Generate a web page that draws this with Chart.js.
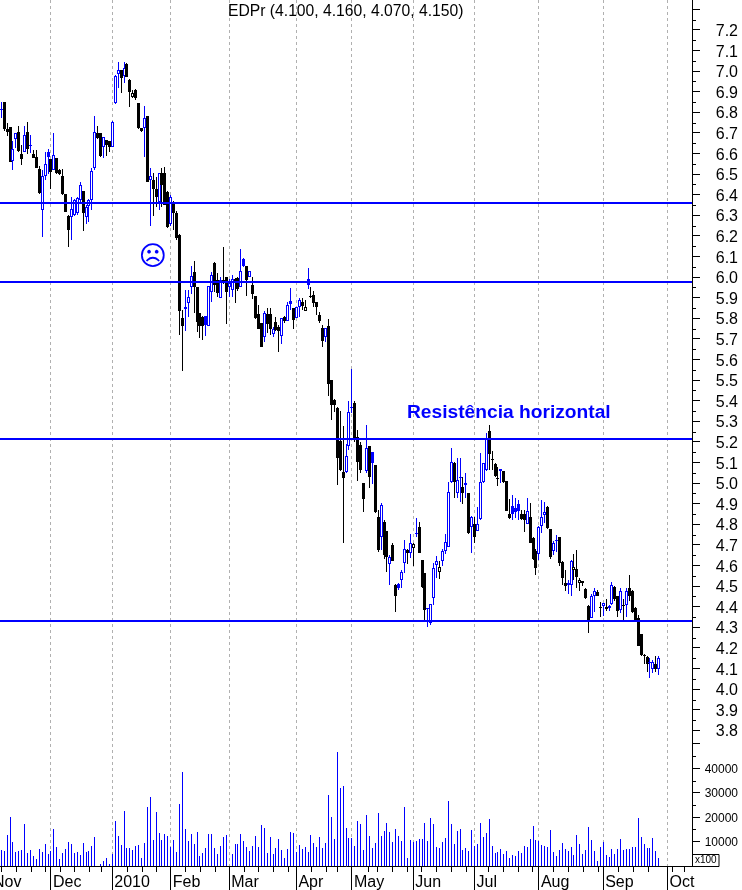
<!DOCTYPE html>
<html>
<head>
<meta charset="utf-8">
<title>EDPr</title>
<script src="https://cdn.jsdelivr.net/npm/chart.js@4/dist/chart.umd.min.js"></script>
<style>
  html, body { margin: 0; padding: 0; background: #fff; overflow: hidden; }
  canvas { display: block; }
</style>
</head>
<body>
<canvas id="chart" width="742" height="890"></canvas>
<script>
// Daily prices
const opens = [6.815,6.85,6.72,6.73,6.565,6.67,6.705,6.60,6.61,6.705,6.64,6.60,6.585,6.525,6.325,6.49,6.61,6.575,6.52,6.58,
  6.52,6.49,6.404,6.297,6.29,6.30,6.31,6.375,6.416,6.291,6.346,6.375,6.529,6.699,6.699,6.634,6.665,6.662,6.634,6.844,
  6.987,7.006,6.977,7.035,6.958,6.874,6.909,6.844,6.725,6.726,6.781,6.472,6.472,6.429,6.365,6.505,6.505,6.414,6.259,6.367,
  6.31,6.203,5.802,5.847,5.876,5.954,6.024,5.95,5.825,5.808,5.812,5.763,5.926,6.067,5.986,5.90,5.985,6.0,5.95,5.938,
  5.99,5.998,5.95,6.09,6.054,6.0,5.962,5.909,5.82,5.776,5.708,5.82,5.82,5.724,5.784,5.756,5.716,5.805,5.789,5.884,
  5.849,5.803,5.854,5.881,5.836,5.99,5.91,5.913,5.879,5.816,5.755,5.711,5.763,5.5,5.404,5.363,5.206,5.053,5.056,5.18,
  5.37,5.388,5.226,5.185,4.999,5.06,5.181,5.15,5.089,4.838,4.737,4.813,4.768,4.606,4.70,4.506,4.51,4.53,4.614,4.676,
  4.66,4.684,4.76,4.786,4.627,4.563,4.395,4.32,4.441,4.605,4.571,4.624,4.671,4.692,5.004,5.10,4.954,5.029,4.983,5.0,
  4.951,4.789,4.802,4.77,4.825,5.004,5.064,5.254,5.118,5.092,5.027,5.067,5.06,5.01,4.851,4.89,4.88,4.9,4.849,4.849,
  4.804,4.835,4.733,4.671,4.655,4.792,4.844,4.883,4.776,4.671,4.724,4.737,4.616,4.514,4.507,4.506,4.579,4.582,4.514,4.524,
  4.487,4.404,4.347,4.45,4.474,4.401,4.406,4.40,4.396,4.414,4.498,4.45,4.385,4.409,4.409,4.49,4.477,4.393,4.344,4.268,
  4.16,4.158,4.125,4.1,4.121,4.10];
const highs = [6.852,6.85,6.75,6.73,6.66,6.70,6.735,6.64,6.735,6.755,6.69,6.617,6.617,6.54,6.52,6.61,6.62,6.575,6.70,6.58,
  6.525,6.525,6.404,6.302,6.39,6.38,6.39,6.464,6.42,6.35,6.38,6.532,6.783,6.734,6.70,6.68,6.665,6.662,6.756,6.98,
  7.047,7.006,7.047,7.039,6.96,6.91,6.915,6.845,6.725,6.831,6.781,6.529,6.505,6.488,6.505,6.529,6.537,6.42,6.40,6.37,
  6.32,6.21,5.84,5.94,5.938,6.054,6.078,5.95,5.825,5.81,5.812,5.957,6.027,6.072,6.02,6.0,6.145,6.0,5.99,6.01,
  5.994,6.0,6.137,6.095,6.054,6.03,6.0,5.91,5.865,5.776,5.836,5.849,5.849,5.76,5.805,5.77,5.80,5.81,5.881,5.946,
  5.85,5.857,5.897,5.897,5.889,6.043,5.954,5.933,5.88,5.833,5.768,5.755,5.795,5.5,5.41,5.37,5.35,5.278,5.19,5.40,
  5.554,5.40,5.258,5.2,5.0,5.282,5.181,5.153,5.089,4.87,4.905,4.82,4.77,4.65,4.71,4.51,4.515,4.58,4.724,4.68,
  4.752,4.71,4.83,4.813,4.627,4.563,4.395,4.412,4.611,4.647,4.624,4.68,4.752,5.004,5.17,5.105,5.121,5.121,5.029,5.05,
  4.951,4.84,4.835,4.883,5.145,5.1,5.242,5.283,5.157,5.1,5.08,5.07,5.06,5.01,4.923,4.943,4.93,4.92,4.87,4.87,
  4.927,4.902,4.74,4.68,4.79,4.919,4.91,4.89,4.78,4.72,4.749,4.74,4.62,4.579,4.53,4.625,4.655,4.676,4.54,4.525,
  4.49,4.41,4.46,4.493,4.48,4.425,4.42,4.44,4.41,4.522,4.5,4.45,4.49,4.436,4.49,4.555,4.48,4.4,4.36,4.27,
  4.17,4.16,4.15,4.14,4.16,4.16];
const lows = [6.771,6.71,6.685,6.56,6.52,6.625,6.61,6.545,6.61,6.6,6.605,6.58,6.53,6.405,6.197,6.47,6.50,6.43,6.52,6.50,
  6.495,6.40,6.318,6.145,6.18,6.295,6.30,6.36,6.222,6.259,6.27,6.327,6.52,6.67,6.585,6.577,6.586,6.61,6.634,6.84,
  6.92,6.896,6.941,6.97,6.828,6.87,6.86,6.72,6.705,6.585,6.46,6.249,6.297,6.343,6.327,6.34,6.35,6.24,6.25,6.23,
  6.18,5.72,5.546,5.74,5.808,5.918,5.826,5.735,5.706,5.695,5.716,5.763,5.881,5.93,5.905,5.90,5.965,5.773,5.905,5.905,
  5.876,5.935,5.95,6.05,5.91,6.0,5.892,5.795,5.747,5.66,5.687,5.727,5.72,5.711,5.74,5.638,5.676,5.78,5.789,5.84,
  5.748,5.80,5.808,5.84,5.836,5.941,5.897,5.857,5.816,5.78,5.66,5.687,5.425,5.307,5.347,4.99,5.06,4.71,5.05,5.16,
  5.34,5.20,5.012,5.05,4.862,5.05,4.975,4.996,4.855,4.668,4.676,4.63,4.57,4.506,4.62,4.376,4.48,4.49,4.563,4.61,
  4.635,4.6,4.74,4.66,4.49,4.336,4.30,4.312,4.409,4.54,4.534,4.6,4.657,4.69,5.0,4.927,4.93,4.91,4.9,4.93,
  4.755,4.663,4.712,4.77,4.82,5.0,5.06,5.064,5.064,5.03,4.988,5.0,5.0,4.867,4.826,4.82,4.83,4.82,4.82,4.765,
  4.804,4.708,4.627,4.555,4.627,4.757,4.805,4.78,4.63,4.65,4.668,4.6,4.506,4.477,4.46,4.454,4.53,4.493,4.477,4.5,
  4.44,4.271,4.345,4.376,4.45,4.352,4.357,4.38,4.38,4.41,4.43,4.352,4.37,4.336,4.352,4.43,4.37,4.33,4.21,4.16,
  4.12,4.082,4.053,4.077,4.082,4.07];
const closes = [6.815,6.718,6.705,6.56,6.62,6.70,6.615,6.575,6.69,6.62,6.64,6.58,6.53,6.41,6.49,6.548,6.585,6.51,6.595,6.505,
  6.50,6.405,6.318,6.23,6.33,6.375,6.383,6.448,6.31,6.34,6.375,6.514,6.707,6.675,6.586,6.68,6.64,6.634,6.755,6.975,
  7.005,6.966,7.014,6.971,6.901,6.895,6.869,6.725,6.71,6.772,6.461,6.492,6.43,6.391,6.505,6.448,6.351,6.242,6.391,6.31,
  6.189,5.837,5.763,5.857,5.905,6.007,5.954,5.784,5.765,5.763,5.768,5.957,6.01,5.962,5.925,5.986,5.97,5.926,5.97,5.99,
  5.973,5.943,6.03,6.056,5.986,6.03,5.918,5.802,5.747,5.663,5.824,5.773,5.747,5.75,5.744,5.74,5.80,5.789,5.865,5.87,
  5.792,5.857,5.889,5.86,5.855,5.962,5.905,5.876,5.855,5.789,5.69,5.755,5.48,5.382,5.38,5.124,5.064,5.024,5.134,5.347,
  5.37,5.213,5.104,5.064,4.921,5.17,5.032,5.097,4.862,4.676,4.894,4.652,4.64,4.641,4.62,4.454,4.49,4.571,4.679,4.66,
  4.708,4.703,4.76,4.663,4.498,4.385,4.388,4.412,4.587,4.62,4.595,4.671,4.713,4.956,5.105,5.004,5.016,5.029,4.954,4.99,
  4.76,4.838,4.74,4.8,5.008,5.097,5.218,5.14,5.115,5.037,5.024,5.06,5.004,4.867,4.83,4.851,4.86,4.865,4.826,4.82,
  4.867,4.708,4.631,4.59,4.786,4.838,4.86,4.781,4.64,4.708,4.724,4.611,4.542,4.503,4.515,4.624,4.592,4.547,4.529,4.514,
  4.445,4.336,4.45,4.477,4.454,4.40,4.42,4.39,4.404,4.506,4.438,4.381,4.478,4.408,4.477,4.453,4.373,4.336,4.21,4.166,
  4.165,4.123,4.13,4.134,4.1,4.15];
const volumes = [6560,6150,12700,20080,9840,5740,6150,6560,17210,5330,6560,4100,2870,6970,5740,9020,4920,6150,15160,7790,
  2870,5330,6970,9840,9020,5330,5740,4510,9430,5740,6150,8200,11880,0,820,2050,3280,820,4920,18440,
  12290,8610,22540,7380,7380,6560,8200,8610,3280,9430,24180,28280,10650,22130,13520,10650,13110,12290,7790,10650,
  5740,25410,38520,15160,10250,13110,9020,13930,4100,5330,7380,13110,13110,7380,4920,8200,11880,12700,0,4920,
  9020,9020,13110,10250,7790,6150,8200,12290,7790,16800,15570,5330,11880,4920,7380,11060,6560,3280,6970,13930,
  13520,5870,8610,6970,7790,5740,12700,9430,7790,11880,7380,9430,29100,20080,11060,46720,31960,32780,15570,11470,
  11610,8200,18440,17210,6560,20900,12290,
  7380,9430,21720,12290,14340,17620,13930,9840,15160,12290,10250,24180,3280,10650,9840,10250,11060,11060,17620,10250,
  19670,17210,7790,7380,9840,11470,26640,17210,9020,14340,15160,6560,7380,6150,14750,8200,9020,17620,11880,13520,
  19260,8200,5330,5740,6970,4920,6150,3280,4510,4100,6150,5330,8200,7790,11060,16390,10650,10250,8610,8200,
  7790,14750,5740,4100,6560,9430,6970,6150,7790,4510,12700,9020,4920,6560,15980,10650,6150,2050,7790,9840,
  4510,3690,6970,4920,6970,11060,6560,6970,6970,7790,7790,19670,11880,9020,7380,7380,11470,6150,3280];

// Axis ticks
const monthTicks = [-3.5,17,38,58,78,101,120,141,162,184,206,228];
const monthLabels = ['Nov','Dec','2010','Feb','Mar','Apr','May','Jun','Jul','Aug','Sep','Oct'];
const weekTicks = [0,5,10,15,20,25,30,34,43,48,53,63,68,73,83,88,93,98,106,111,115,125.5,128.6,133.7,138.8,143.6,148.7,153.8,158.9,
  166.6,171.7,176.8,181.6,188.8,193.9,199,204.2,211,216.1,221.3,229.5,233.6];
const priceTicks = [7.3,7.2,7.1,7.0,6.9,6.8,6.7,6.6,6.5,6.4,6.3,6.2,6.1,6.0,5.9,5.8,5.7,5.6,5.5,5.4,5.3,5.2,5.1,5.0,4.9,4.8,4.7,4.6,4.5,4.4,4.3,4.2,4.1,4.0,3.9,3.8];
const volumeTicks = [10000,20000,30000,40000,50000];
const volumeMinorTicks = [5000,15000,25000,35000,45000];

// The four horizontal resistance lines
const resistanceLevels = [6.36,5.977,5.214,4.331];

const BLUE = '#0000ff';
const FONT = '"Liberation Sans", Arial, sans-serif';
const X_MIN = -0.44, X_MAX = 236.4;

// Blue if the close is not below the previous close, hollow if it closed above the open
const candleColor = i => (i === 0 || closes[i] >= closes[i - 1]) ? BLUE : '#000000';
const isHollow = i => closes[i] > opens[i];

const wickData = highs.map((h, i) => ({ x: i, y: [lows[i], h] }));
const bodyData = opens.map((o, i) => ({ x: i, y: [Math.min(o, closes[i]), Math.max(o, closes[i])] }));
const volumeData = volumes.map((v, i) => ({ x: i, y: v }));

// Chart.js reserves room for labels that stick out past the ends of an axis, here they may just overflow
function noPadding(scale) {
  scale.paddingLeft = scale.paddingRight = scale.paddingTop = scale.paddingBottom = 0;
}

// Snap bars to whole pixels so they stay as crisp as in the original
const snapPlugin = {
  id: 'snap',
  afterDatasetsUpdate(chart) {
    chart.data.datasets.forEach((ds, d) => {
      chart.getDatasetMeta(d).data.forEach(el => {
        if (ds.type === 'line') { el.y = Math.round(el.y); return; }
        el.x = Math.floor(el.x) + 0.5;
        el.y = Math.round(el.y);
        el.base = Math.round(el.base);
        if (el.base === el.y) el.base = el.y + 1;
      });
    });
  }
};

// Short ticks, title, notes and the little x100 box
const extrasPlugin = {
  id: 'extras',
  afterDraw(chart) {
    const { ctx, scales } = chart;
    const { x, y, volume } = scales;
    ctx.save();
    ctx.strokeStyle = '#000';
    ctx.lineWidth = 1;
    ctx.beginPath();
    weekTicks.forEach(w => {
      const px = Math.round(x.getPixelForValue(w)) + 0.5;
      ctx.moveTo(px, x.top); ctx.lineTo(px, x.top + 6);
    });
    priceTicks.slice(1).forEach(p => {
      const py = Math.round(y.getPixelForValue(p + 0.05)) + 0.5;
      ctx.moveTo(y.left, py); ctx.lineTo(y.left + 4, py);
    });
    volumeMinorTicks.forEach(v => {
      const py = Math.round(volume.getPixelForValue(v)) + 0.5;
      ctx.moveTo(y.left, py); ctx.lineTo(y.left + 4, py);
    });
    // x100 box
    ctx.moveTo(y.left, x.top - 12 + 0.5); ctx.lineTo(y.left + 27, x.top - 12 + 0.5);
    ctx.lineTo(y.left + 27, x.top + 0.5); ctx.lineTo(y.left, x.top + 0.5);
    ctx.stroke();

    ctx.textBaseline = 'middle';
    ctx.textAlign = 'left';
    ctx.fillStyle = '#000';
    ctx.font = '10px ' + FONT;
    ctx.fillText('x100', y.left + 3, x.top - 5.5);
    ctx.font = '15.7px ' + FONT;
    ctx.fillText('EDPr (4.100, 4.160, 4.070, 4.150)', 228, 12);
    ctx.fillStyle = BLUE;
    ctx.font = 'bold 19.2px ' + FONT;
    ctx.fillText('Resistência horizontal', 407, 412.5);
    ctx.textAlign = 'center';
    ctx.font = '27px "DejaVu Sans"';
    ctx.fillText('\u2639', x.getPixelForValue(51.9), y.getPixelForValue(6.095));
    ctx.restore();
  }
};

const lineDatasets = resistanceLevels.map(level => ({
  type: 'line',
  data: [{ x: X_MIN, y: level }, { x: X_MAX, y: level }],
  yAxisID: 'y',
  borderColor: BLUE,
  borderWidth: 2,
  pointRadius: 0,
  order: 0
}));

// grouped: false makes Chart.js ignore barThickness, so widths are capped with maxBarThickness
new Chart(document.getElementById('chart'), {
  data: {
    datasets: [
      {
        type: 'bar',
        data: wickData,
        yAxisID: 'y',
        maxBarThickness: 1,
        backgroundColor: highs.map((_, i) => candleColor(i)),
        borderWidth: 0,
        order: 3
      },
      {
        type: 'bar',
        data: bodyData,
        yAxisID: 'y',
        barPercentage: 1.5,
        maxBarThickness: 3,
        backgroundColor: opens.map((_, i) => isHollow(i) ? '#ffffff' : candleColor(i)),
        borderColor: opens.map((_, i) => candleColor(i)),
        borderWidth: opens.map((_, i) => isHollow(i) ? 1 : 0),
        borderSkipped: false,
        order: 2
      },
      {
        type: 'bar',
        data: volumeData,
        yAxisID: 'volume',
        maxBarThickness: 1,
        backgroundColor: BLUE,
        borderWidth: 0,
        order: 2
      },
      ...lineDatasets
    ]
  },
  options: {
    responsive: false,
    animation: false,
    devicePixelRatio: 1,
    layout: { padding: { left: 0, top: 0, bottom: 0, right: 4 } },
    datasets: { bar: { grouped: false } },
    plugins: { legend: { display: false }, tooltip: { enabled: false } },
    scales: {
      x: {
        type: 'linear',
        offset: false,
        bounds: 'data',
        min: X_MIN,
        max: X_MAX,
        afterBuildTicks: scale => { scale.ticks = monthTicks.map(value => ({ value })); },
        afterFit: scale => { scale.height = 24; noPadding(scale); },
        grid: { offset: false, color: '#b0b0b0', tickColor: '#000', tickLength: 24, tickBorderDash: [] },
        border: { color: '#000', dash: [3, 3] },
        ticks: {
          autoSkip: false,
          maxRotation: 0,
          align: 'start',
          padding: -17,
          labelOffset: 2,
          color: '#000',
          font: { family: FONT, size: 16 },
          callback: value => monthLabels[monthTicks.indexOf(value)]
        }
      },
      y: {
        type: 'linear',
        position: 'right',
        stack: 'right',
        stackWeight: 740,
        bounds: 'data',
        min: 3.7534,
        max: 7.3456,
        afterBuildTicks: scale => { scale.ticks = priceTicks.map(value => ({ value })); },
        afterFit: scale => { scale.width = 46; noPadding(scale); },
        grid: { drawOnChartArea: false, tickColor: '#000', tickLength: 8 },
        border: { color: '#000' },
        ticks: {
          crossAlign: 'far',
          autoSkip: false,
          labelOffset: 1.5,
          color: '#000',
          font: { family: FONT, size: 16 },
          callback: value => value > 7.25 ? '' : value.toFixed(1)
        }
      },
      volume: {
        type: 'linear',
        position: 'right',
        stack: 'right',
        stackWeight: 126,
        bounds: 'data',
        min: 0,
        max: 51639,
        afterBuildTicks: scale => { scale.ticks = volumeTicks.map(value => ({ value })); },
        afterFit: scale => { scale.width = 46; noPadding(scale); },
        grid: { drawOnChartArea: false, tickColor: '#000', tickLength: 8 },
        border: { color: '#000' },
        ticks: {
          crossAlign: 'far',
          autoSkip: false,
          labelOffset: 1,
          color: '#000',
          font: { family: FONT, size: 12 },
          callback: value => value >= 50000 ? '' : String(value)
        }
      }
    }
  },
  plugins: [snapPlugin, extrasPlugin]
});
</script>
</body>
</html>
